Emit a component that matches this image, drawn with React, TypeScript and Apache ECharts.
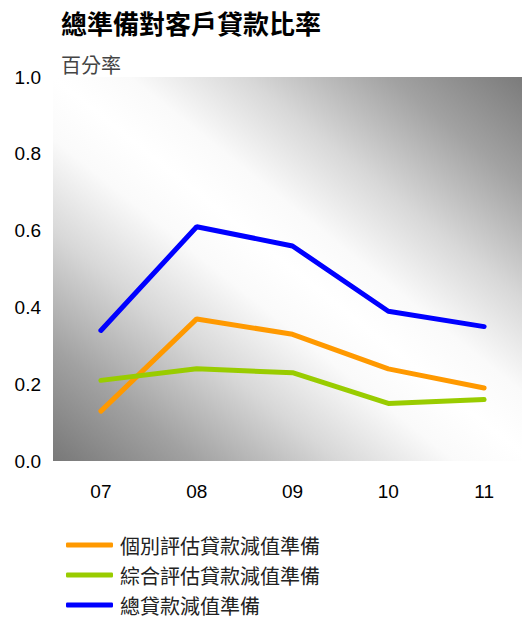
import React, { useEffect, useRef } from "react";
import * as echarts from "echarts";

const categories = ["07", "08", "09", "10", "11"];
const individual = [0.13, 0.37, 0.33, 0.24, 0.19];
const collective = [0.21, 0.24, 0.23, 0.15, 0.16];
const total = [0.34, 0.61, 0.56, 0.39, 0.35];
const seriesNames = ["個別評估貸款減值準備", "綜合評估貸款減值準備", "總貸款減值準備"];
const colors = ["#FF9900", "#99CC00", "#0000FF"];
const titleText = "總準備對客戶貸款比率";
const subtitleText = "百分率";

const FONT = "'Liberation Sans', Arial, 'Noto Sans CJK TC', sans-serif";
const CJK = "'Noto Sans CJK TC', 'Liberation Sans', sans-serif";
const H = 680;

export default function App() {
  const ref = useRef<HTMLDivElement>(null);
  useEffect(() => {
    const chart = echarts.init(ref.current!, undefined, { renderer: "svg" });
    const data = [individual, collective, total];
    chart.setOption({
      animation: false,
      textStyle: { fontFamily: FONT },
      graphic: [
        {
          type: "text",
          left: 61,
          top: 9,
          style: {
            text: titleText,
            font: `bold 26px ${CJK}`,
            fill: "#000",
          },
        },
        {
          type: "text",
          left: 61,
          top: 54,
          style: {
            text: subtitleText,
            font: `20px ${CJK}`,
            fill: "#444",
          },
        },
      ],
      legend: {
        orient: "vertical",
        left: 66,
        top: 535,
        padding: 0,
        itemWidth: 47,
        itemHeight: 5,
        itemGap: 10,
        icon: "roundRect",
        textStyle: { fontSize: 20, color: "#222", fontFamily: CJK, padding: [0, 0, 0, 2] },
        data: seriesNames,
      },
      grid: {
        left: 53,
        right: 0,
        top: 77,
        bottom: H - 461,
        show: true,
        borderWidth: 0,
        backgroundColor: new echarts.graphic.LinearGradient(0, 1, 1, 0, [
          { offset: 0, color: "#787878" },
          { offset: 0.15, color: "#a2a2a2" },
          { offset: 0.3, color: "#d8d8d8" },
          { offset: 0.42, color: "#fafafa" },
          { offset: 0.5, color: "#ffffff" },
          { offset: 0.58, color: "#fafafa" },
          { offset: 0.7, color: "#d8d8d8" },
          { offset: 0.85, color: "#a2a2a2" },
          { offset: 1, color: "#787878" },
        ]),
      },
      xAxis: {
        type: "category",
        data: categories,
        boundaryGap: true,
        axisLine: { show: false },
        axisTick: { show: false },
        axisLabel: { fontSize: 19, color: "#000", margin: 21, fontFamily: FONT },
      },
      yAxis: {
        type: "value",
        min: 0,
        max: 1,
        interval: 0.2,
        splitLine: { show: false },
        axisLine: { show: false },
        axisTick: { show: false },
        axisLabel: {
          fontSize: 19,
          color: "#000",
          margin: 12,
          fontFamily: FONT,
          formatter: (v: number) => v.toFixed(1),
        },
      },
      series: seriesNames.map((name, i) => ({
        name,
        type: "line",
        data: data[i],
        symbol: "none",
        color: colors[i],
        lineStyle: { width: 5, color: colors[i], cap: "round" },
      })),
    });
    return () => chart.dispose();
  }, []);
  return (
    <div style={{ position: "absolute", left: 0, top: 0, width: 522, height: 621, overflow: "hidden" }}>
      <div ref={ref} style={{ width: 532, height: H }} />
    </div>
  );
}
